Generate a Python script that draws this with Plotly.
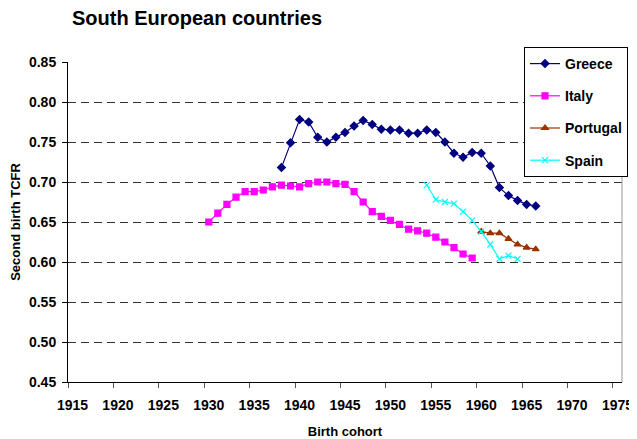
import plotly.graph_objects as go

greece_years = list(range(1938, 1967))
greece_vals = [0.718, 0.749, 0.778, 0.775, 0.756, 0.750, 0.756, 0.762, 0.770, 0.777,
               0.772, 0.766, 0.765, 0.765, 0.761, 0.761, 0.765, 0.762, 0.750, 0.736,
               0.731, 0.737, 0.736, 0.720, 0.693, 0.683, 0.677, 0.672, 0.670]

italy_years = list(range(1930, 1960))
italy_vals = [0.650, 0.661, 0.672, 0.681, 0.688, 0.688, 0.690, 0.694, 0.696, 0.695,
              0.694, 0.698, 0.700, 0.700, 0.698, 0.697, 0.688, 0.675, 0.663, 0.657,
              0.652, 0.647, 0.641, 0.639, 0.636, 0.631, 0.625, 0.618, 0.610, 0.605]

portugal_years = list(range(1960, 1967))
portugal_vals = [0.638, 0.636, 0.636, 0.629, 0.622, 0.618, 0.616]

spain_years = list(range(1954, 1965))
spain_vals = [0.696, 0.678, 0.675, 0.673, 0.663, 0.652, 0.638, 0.622, 0.604, 0.608, 0.604]

x_tick_labels = list(range(1915, 1976, 5))

FONT = "Arial, Liberation Sans, sans-serif"

series = [
    ("Greece", greece_years, greece_vals, "#000080", "diamond", 6),
    ("Italy", italy_years, italy_vals, "#FF00FF", "square", 6),
    ("Portugal", portugal_years, portugal_vals, "#993300", "triangle-up", 6),
    ("Spain", spain_years, spain_vals, "#00FFFF", "x-thin-open", 6),
]

fig = go.Figure()
for name, xs, ys, color, sym, size in series:
    fig.add_trace(go.Scatter(
        x=xs, y=ys, name=name, mode="lines+markers",
        line=dict(color=color, width=1.2),
        marker=dict(symbol=sym, size=size, color=color,
                    line=dict(color=color, width=1.2)),
        legendgroup=name,
    ))

# The page body has an 8px margin, so the figure is sized and placed to compensate.
W, H = 629, 431
L, T, R, B = 60, 54, 15, 57
PW, PH = W - L - R, H - T - B

# Category-style axis: each cohort occupies a unit slot, labels centred on the
# cohort, tick marks on the slot boundaries.
x_lo, x_hi = x_tick_labels[0] - 0.5, x_tick_labels[-1] + 0.5

fig.update_layout(
    width=W, height=H,
    margin=dict(l=L, r=R, t=T, b=B, autoexpand=False),
    paper_bgcolor="white", plot_bgcolor="white",
    font=dict(family=FONT, size=13, color="black", weight="bold"),
    title=dict(text="South European countries", x=64/W, xanchor="left",
               y=1-10/H, yanchor="middle",
               font=dict(size=20, family=FONT, weight="bold")),
    showlegend=True,
    legend=dict(x=(516-L)/PW, xanchor="left", y=1+(T-39)/PH, yanchor="top",
                bgcolor="white", bordercolor="black", borderwidth=1,
                font=dict(size=14, family=FONT, weight="bold"), tracegroupgap=11,
                itemwidth=30),
    xaxis=dict(range=[x_lo, x_hi], tickmode="array", tickvals=x_tick_labels,
               showgrid=False,
               showline=True, linecolor="black", linewidth=1,
               ticks="outside", ticklen=5, tickcolor="rgba(0,0,0,0)",
               ticklabelstandoff=5, ticklabeloverflow="allow",
               minor=dict(tick0=x_lo, dtick=5, ticks="outside", ticklen=5,
                          tickcolor="#555", showgrid=False),
               tickfont=dict(size=14, family=FONT, weight="bold"),
               title=dict(text="Birth cohort", font=dict(size=13, weight="bold"), standoff=15),
               zeroline=False),
    yaxis=dict(range=[0.45, 0.85], tick0=0.45, dtick=0.05, tickformat=".2f",
               showgrid=True, gridcolor="#333", gridwidth=1, griddash="8px,5px",
               showline=True, linecolor="black", linewidth=1,
               ticks="outside", ticklen=5, tickcolor="black",
               ticklabelstandoff=3,
               tickfont=dict(size=14, family=FONT, weight="bold"),
               title=dict(text="Second birth TCFR", font=dict(size=13, weight="bold"), standoff=7),
               zeroline=False),
)

fig.add_shape(type="line", xref="paper", yref="paper", x0=1, x1=1, y0=0, y1=1,
              line=dict(color="#999", width=1))

fig.write_html("out.html")
